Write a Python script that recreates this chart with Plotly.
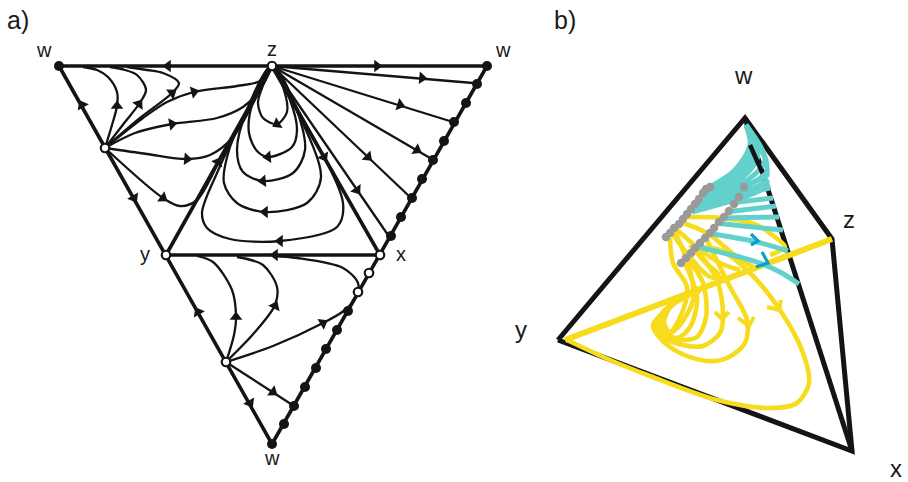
"""Phase portraits on a tetrahedron: a) unfolded net, b) 3D view."""
import plotly.graph_objects as go

BLACK = "#141414"
YELLOW = "#f7dc1e"
CYAN = "#62d0cb"
BLUE = "#089fd3"
GRAY = "#9a9a9a"

# --- panel a, positions ---
A_EDGES = [
    [(59, 66), (487, 66), (272, 444), (59, 66)],
    [(166, 255), (272, 66), (380, 255), (166, 255)],
]
A_FAN_LEFT = [
    [(105, 148), (112, 125), (117, 106), (117, 92), (108, 77), (97, 70), (83, 67)],
    [(105, 148), (125, 122), (139, 104), (146, 90), (137, 75), (125, 70), (110, 67)],
    [(105, 148), (140, 118), (172, 93), (179, 83), (163, 73), (147, 70), (127, 67)],
    [(105, 148), (143, 118), (167, 102), (194, 92), (237, 86), (260, 81), (272, 66)],
    [(105, 148), (135, 133), (172, 124), (217, 118), (243, 107), (260, 90), (272, 66)],
    [(105, 148), (147, 154), (187, 159), (210, 155), (233, 137), (260, 90), (272, 66)],
    [(105, 148), (163, 198), (180, 206), (197, 200), (220, 160), (260, 90), (272, 66)],
]
A_LOOPS = [
    [(272, 66), (284, 90), (287, 112), (277, 124), (263, 118), (258, 103), (262, 88), (272, 66)],
    [(272, 66), (290, 100), (297, 130), (292, 147), (268, 157), (257, 151), (249, 133), (252, 105), (272, 66)],
    [(272, 66), (295, 105), (305, 150), (293, 173), (263, 181), (243, 172), (237, 150), (247, 110), (272, 66)],
    [(272, 66), (293, 103), (321, 177), (307, 203), (265, 212), (237, 203), (224, 183), (230, 147), (250, 105), (272, 66)],
    [(272, 66), (297, 108), (343, 203), (337, 227), (280, 241), (230, 239), (207, 228), (202, 213), (217, 173), (250, 105), (272, 66)],
]
A_FAN_RIGHT = [
    [(272, 66), (473, 83)],
    [(272, 66), (453, 122)],
    [(272, 66), (430, 158)],
    [(272, 66), (410, 197)],
    [(272, 66), (388, 235)],
]
A_FAN_LOWER = [
    [(226, 362), (234, 335), (236, 317), (232, 290), (213, 262), (197, 256)],
    [(226, 362), (255, 332), (275, 305), (277, 287), (263, 265), (237, 257)],
    [(226, 362), (273, 346), (323, 323), (345, 310), (356, 297), (358, 283), (343, 268), (297, 258), (273, 256)],
    [(226, 362), (294, 406)],
]
A_ARROWS = [
    (168, 66, 270), (377, 66, 90), (82, 105, 331), (134, 198, 150), (218, 162, 29),
    (324, 157, 150), (275, 255, 270), (280, 241, 270), (265, 212, 270), (263, 181, 265),
    (268, 157, 265), (277, 124, 240), (422, 78, 95), (400, 105, 107), (417, 150, 120),
    (368, 157, 133), (357, 190, 145), (117, 106, 0), (139, 104, 35), (172, 93, 55),
    (194, 92, 75), (172, 124, 80), (187, 159, 95), (163, 198, 125), (236, 317, 0),
    (275, 306, 25), (323, 323, 60), (273, 392, 125), (198, 312, 330), (250, 403, 150),
]
A_SINKS = [
    (59, 66), (487, 66), (272, 444),
    (477, 84), (466, 103), (454, 122), (444, 141), (433, 160), (422, 179), (412, 198), (401, 217), (391, 236),
    (348, 311), (337, 330), (326, 349), (316, 368), (305, 387), (294, 406), (284, 424),
]
A_SOURCES = [(272, 66), (166, 255), (380, 255), (105, 148), (226, 362), (369, 273), (358, 292)]

# --- panel b ---
B_EDGES = [
    [(558, 340), (745, 118), (832, 239), (852, 451), (558, 340)],
    [(745, 118), (852, 451)],
]
B_EDGE_FRONT = [(750, 145), (762, 172)]
B_Z_Y = [(832, 239), (565, 340)]
B_YELLOW = [
    [(695, 247), (720, 250), (750, 273), (780, 310), (803, 353), (809, 383), (797, 403), (770, 408), (717, 400), (650, 376), (610, 360), (567, 340)],
    [(707, 240), (730, 287), (747, 320), (745, 343), (727, 358), (707, 361), (680, 353), (660, 338), (653, 325), (663, 313), (683, 297), (700, 291)],
    [(697, 250), (717, 280), (723, 313), (720, 333), (703, 346), (683, 345), (663, 337), (655, 325), (668, 308), (690, 295)],
    [(687, 257), (703, 283), (706, 317), (697, 337), (683, 340), (673, 338), (660, 332), (658, 320), (672, 303)],
    [(683, 260), (697, 297), (690, 327), (677, 338), (662, 330), (664, 315), (680, 298)],
    [(670, 238), (673, 263), (687, 287), (682, 313), (670, 332), (664, 322), (672, 303)],
    [(675, 232), (690, 270), (693, 300), (680, 325), (668, 335)],
    [(683, 217), (723, 218), (757, 225), (775, 237), (785, 247), (770, 255)],
    [(680, 222), (707, 233), (737, 257), (753, 267)],
    [(675, 228), (697, 247), (720, 263), (740, 270)],
    [(672, 233), (690, 257), (710, 277), (725, 277)],
    [(690, 245), (705, 262), (720, 275)],
]
B_YELLOW_HEADS = [
    [(767, 307), (779, 310), (781, 300)],
    [(738, 318), (749, 326), (754, 317)],
    [(715, 312), (722, 319), (729, 312)],
]
B_CYAN = [
    [(707, 233), (757, 242), (788, 251)],
    [(698, 247), (757, 262), (780, 272), (799, 284)],
    [(715, 223), (753, 227), (783, 230)],
    [(720, 218), (779, 217)],
    [(725, 212), (776, 206)],
    [(730, 203), (773, 198)],
    [(737, 195), (770, 188)],
    [(743, 187), (767, 176)],
    [(710, 187), (735, 170), (750, 145), (746, 125)],
    [(708, 190), (737, 173), (752, 148), (746, 125)],
    [(706, 194), (738, 176), (755, 152), (746, 125)],
    [(703, 198), (741, 179), (758, 155), (746, 125)],
    [(700, 203), (745, 182), (765, 160), (746, 125)],
    [(698, 206), (748, 186), (768, 172)],
    [(696, 208), (750, 190), (769, 180)],
    [(692, 212), (750, 195), (770, 185)],
    [(746, 125), (766, 160), (767, 177)],
]
B_BLUE_HEADS = [
    [(751, 234), (758, 241), (751, 245)],
    [(762, 252), (768, 263), (756, 267)],
]
B_GRAY = [
    (666, 237), (670, 233), (674, 228), (679, 224), (683, 219), (687, 214), (691, 209), (695, 204), (699, 199), (703, 193), (706, 189), (710, 187),
    (681, 263), (686, 258), (691, 253), (695, 248), (700, 243), (705, 238), (710, 233), (714, 228), (719, 222), (724, 217), (729, 211), (734, 204), (739, 197), (744, 187),
]

# label, x, y, size
LABELS = [
    ("a)", 18, 20, 25), ("w", 44, 50, 20), ("z", 272, 49, 20), ("w", 503, 50, 20),
    ("y", 145, 254, 20), ("x", 401, 254, 20), ("w", 272, 458, 20),
    ("b)", 565, 20, 25), ("w", 743, 75, 24), ("z", 849, 219, 24), ("y", 521, 329, 24), ("x", 896, 468, 24),
]


def _curve(fig, pts, color=BLACK, width=2.3, smooth=True):
    fig.add_trace(go.Scatter(
        x=[p[0] for p in pts],
        y=[p[1] for p in pts],
        mode="lines",
        line=dict(color=color, width=width, shape="spline" if smooth else "linear", smoothing=0.9),
        hoverinfo="skip",
    ))


fig = go.Figure()

for edge in A_EDGES:
    _curve(fig, edge, width=3.6, smooth=False)
for group in (A_FAN_LEFT, A_LOOPS, A_FAN_LOWER):
    for c in group:
        _curve(fig, c)
for c in A_FAN_RIGHT:
    _curve(fig, c, smooth=False)

fig.add_trace(go.Scatter(
    x=[a[0] for a in A_ARROWS],
    y=[a[1] for a in A_ARROWS],
    mode="markers",
    marker=dict(symbol="triangle-up", size=11, color=BLACK, angle=[a[2] for a in A_ARROWS]),
    hoverinfo="skip",
))
fig.add_trace(go.Scatter(
    x=[p[0] for p in A_SINKS],
    y=[p[1] for p in A_SINKS],
    mode="markers",
    marker=dict(size=10, color=BLACK),
    hoverinfo="skip",
))
fig.add_trace(go.Scatter(
    x=[p[0] for p in A_SOURCES],
    y=[p[1] for p in A_SOURCES],
    mode="markers",
    marker=dict(size=8.5, color="white", line=dict(color=BLACK, width=2.2)),
    hoverinfo="skip",
))

# panel b, back to front
for edge in B_EDGES:
    _curve(fig, edge, width=5, smooth=False)
_curve(fig, B_Z_Y, color=YELLOW, width=6, smooth=False)
for c in B_YELLOW:
    _curve(fig, c, color=YELLOW, width=4.6)
for c in B_YELLOW_HEADS:
    _curve(fig, c, color=YELLOW, width=4, smooth=False)
for c in B_CYAN:
    _curve(fig, c, color=CYAN, width=5)
_curve(fig, B_EDGE_FRONT, width=4.5, smooth=False)
for c in B_BLUE_HEADS:
    _curve(fig, c, color=BLUE, width=3.2, smooth=False)
fig.add_trace(go.Scatter(
    x=[p[0] for p in B_GRAY],
    y=[p[1] for p in B_GRAY],
    mode="markers",
    marker=dict(size=8.5, color=GRAY),
    hoverinfo="skip",
))

for text, x, y, size in LABELS:
    fig.add_annotation(
        text=text, x=x, y=y, xref="x", yref="y", showarrow=False,
        font=dict(family="Liberation Sans", size=size, color="#1a1a1a"),
    )

fig.update_layout(
    width=908,
    height=482,
    margin=dict(l=0, r=0, t=0, b=0),
    paper_bgcolor="white",
    plot_bgcolor="white",
    showlegend=False,
    xaxis=dict(visible=False, range=[0, 908], fixedrange=True),
    yaxis=dict(visible=False, range=[482, 0], fixedrange=True),
)

# the page's default body margin would push the plot 8px off
fig.write_html(
    "out.html",
    config=dict(displayModeBar=False),
    post_script="document.body.style.margin = '0';",
)
